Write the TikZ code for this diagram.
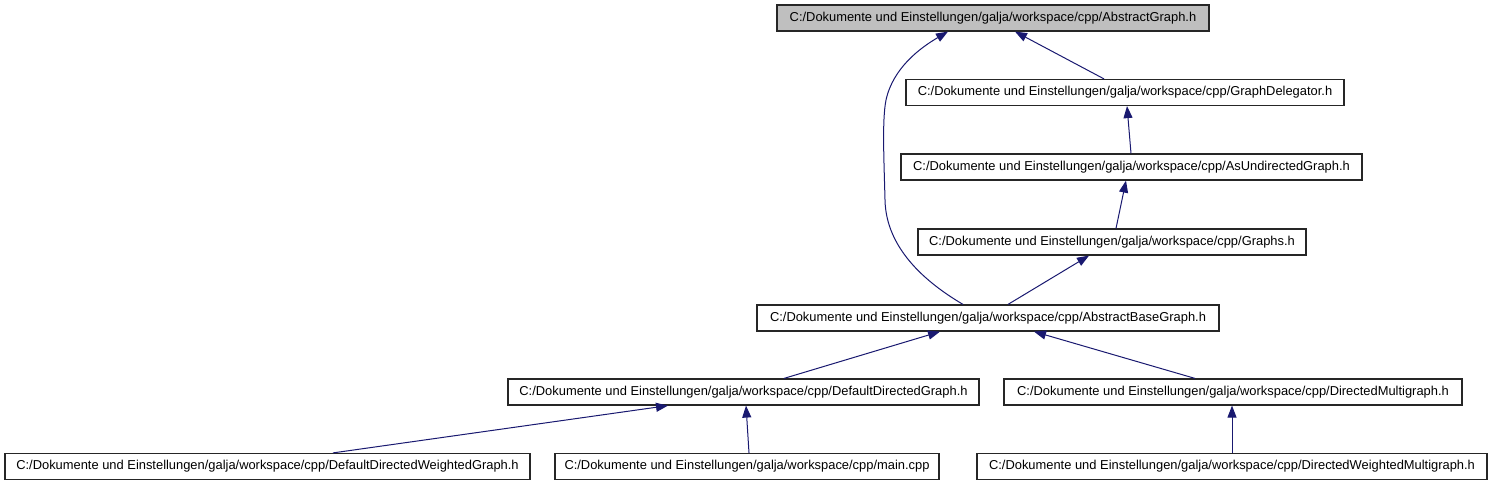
\documentclass[tikz,border=0pt]{standalone}
\usepackage{fontspec}
\setmainfont{Liberation Sans}
\usetikzlibrary{arrows.meta}
\definecolor{edgeblue}{RGB}{25,25,112}
\definecolor{boxgray}{RGB}{191,191,191}
\begin{document}
\begin{tikzpicture}[x=1pt,y=-1pt,
  filebox/.style={draw=black!85, line width=1.2pt, rectangle, inner sep=0pt,
    minimum height=26pt, font=\fontsize{12.9}{15}\selectfont, text=black},
  dep/.style={draw=edgeblue, line width=1pt,
    -{Triangle[length=12pt,width=9pt,fill=edgeblue]}}]
\useasboundingbox (0,0) rectangle (1495,485);
\node[filebox, fill=boxgray, minimum width=432pt] (ag) at (993,18) {C:/Dokumente und Einstellungen/galja/workspace/cpp/AbstractGraph.h};
\node[filebox, minimum width=438pt] (gd) at (1125,92.5) {C:/Dokumente und Einstellungen/galja/workspace/cpp/GraphDelegator.h};
\node[filebox, minimum width=461pt] (aug) at (1131.5,167) {C:/Dokumente und Einstellungen/galja/workspace/cpp/AsUndirectedGraph.h};
\node[filebox, minimum width=388pt] (gr) at (1112,242) {C:/Dokumente und Einstellungen/galja/workspace/cpp/Graphs.h};
\node[filebox, minimum width=462pt] (abg) at (988,318) {C:/Dokumente und Einstellungen/galja/workspace/cpp/AbstractBaseGraph.h};
\node[filebox, minimum width=471pt] (ddg) at (743.5,392) {C:/Dokumente und Einstellungen/galja/workspace/cpp/DefaultDirectedGraph.h};
\node[filebox, minimum width=458pt] (dm) at (1233,392) {C:/Dokumente und Einstellungen/galja/workspace/cpp/DirectedMultigraph.h};
\node[filebox, minimum width=525pt] (ddwg) at (267.5,466.5) {C:/Dokumente und Einstellungen/galja/workspace/cpp/DefaultDirectedWeightedGraph.h};
\node[filebox, minimum width=384pt] (mn) at (747,466.5) {C:/Dokumente und Einstellungen/galja/workspace/cpp/main.cpp};
\node[filebox, minimum width=510pt] (dwm) at (1232,466.5) {C:/Dokumente und Einstellungen/galja/workspace/cpp/DirectedWeightedMultigraph.h};
\draw[dep] ([xshift=-21pt]gd.north) -- ([xshift=22pt]ag.south);
\draw[dep] ([xshift=-25pt]abg.north) .. controls (925,282) and (886,248) .. (885,200)
  .. controls (884,160) and (882,120) .. (886,100)
  .. controls (893,68) and (920,48) .. ([xshift=-45pt]ag.south);
\draw[dep] ([xshift=-0.5pt]aug.north) -- ([xshift=2pt]gd.south);
\draw[dep] ([xshift=4pt]gr.north) -- ([xshift=-5.5pt]aug.south);
\draw[dep] ([xshift=20pt]abg.north) -- ([xshift=-23pt]gr.south);
\draw[dep] ([xshift=40.5pt]ddg.north) -- ([xshift=-48pt]abg.south);
\draw[dep] ([xshift=-38pt]dm.north) -- ([xshift=46pt]abg.south);
\draw[dep] ([xshift=65.5pt]ddwg.north) -- ([xshift=-75.5pt]ddg.south);
\draw[dep] ([xshift=2pt]mn.north) -- ([xshift=2.5pt]ddg.south);
\draw[dep] (dwm.north) -- ([xshift=-1pt]dm.south);
\end{tikzpicture}
\end{document}
